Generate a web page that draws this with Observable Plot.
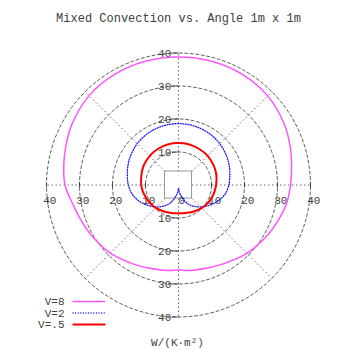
<!DOCTYPE html>
<html><head><meta charset="utf-8">
<script src="https://cdn.jsdelivr.net/npm/d3@7"></script>
<script src="https://cdn.jsdelivr.net/npm/@observablehq/plot@0.6"></script>
<style>html,body{margin:0;padding:0;background:#fff} svg{display:block}</style>
</head><body><div id="chart"></div>
<script>
// ---------- data ----------
const title = "Mixed Convection vs. Angle 1m x 1m";
const unitLabel = "W/(K·m²)";
const seriesNames = ["V=8", "V=2", "V=.5"];
// polar angle (degrees, 0 = right, counter-clockwise)
const angles = [0,10,20,30,45,60,75,90,105,120,135,150,160,170,180,190,200,210,225,240,250,260,265,270,275,280,290,300,315,330,340,350,360];
const v8  = [34.0,34.8,35.9,37.0,38.2,38.7,38.8,38.8,38.8,38.7,38.3,37.2,36.2,35.3,34.4,32.6,31.4,30.5,29.2,27.6,26.8,26.2,26.0,25.7,26.0,26.2,26.7,27.5,29.3,30.9,32.0,33.2,34.0];
const v2  = [15.3,15.8,16.4,16.95,17.7,18.2,18.5,18.6,18.5,18.2,17.7,16.95,16.35,15.75,15.2,14.4,13.2,11.7,9.4,7.0,5.0,2.8,1.9,1.0,1.9,2.8,5.0,7.0,9.4,11.7,13.2,14.5,15.3];
const v05 = [11.4,11.7,12.0,12.2,12.5,12.6,12.7,12.7,12.7,12.6,12.4,12.1,11.8,11.5,11.3,11.0,10.6,10.3,9.8,9.2,8.9,8.7,8.6,8.6,8.6,8.7,8.9,9.3,9.9,10.5,10.8,11.1,11.4];
const ringTicks = [10, 20, 30, 40];
const xTickValues = [-40,-30,-20,-10,0,10,20,30,40];
const yTickValues = [40,30,20,10,-10,-20,-30,-40];
const spokeAngles = [0,45,90,135,180,225,270,315];

// ---------- layout ----------
const W = 360, H = 360;
const CX = 178, CY = 184.5, S = 3.3;          // pole position (px) and px per unit
const X = px => (px - CX) / S, Y = py => (CY - py) / S;
const rad = a => a * Math.PI / 180;
const inner = 4.1;                              // half size of central box
const font = "Liberation Mono";
const txt = "#404040";

const styles = [
  {stroke: "#ff55ff", strokeWidth: 1.5, dash: null},
  {stroke: "#1a1aff", strokeWidth: 1.3, dash: "1,1.6"},
  {stroke: "#ff0000", strokeWidth: 2, dash: null}
];
const seriesVals = [v8, v2, v05];

const ringPts = ringTicks.flatMap(r => d3.range(0, 361, 2).map(a => ({r, a})));
const spokes = spokeAngles.map(a => ({a, r0: a % 90 === 0 ? inner : inner * Math.SQRT2, r1: 40}));

const seriesMarks = seriesNames.map((name, k) => {
  const pts = angles.map((a, i) => ({a, r: seriesVals[k][i]}));
  return Plot.line(pts, {
    x: d => d.r * Math.cos(rad(d.a)), y: d => d.r * Math.sin(rad(d.a)),
    stroke: styles[k].stroke, strokeWidth: styles[k].strokeWidth,
    strokeDasharray: styles[k].dash, curve: "catmull-rom"
  });
});

const legendRows = [301, 312.5, 324];
const legendMarks = seriesNames.flatMap((name, k) => [
  Plot.text([name], {x: X(64), y: Y(legendRows[k]), text: d => d, textAnchor: "end",
    fontFamily: font, fontSize: 11, fill: txt}),
  Plot.link([name], {x1: X(72), x2: X(105), y1: Y(legendRows[k]), y2: Y(legendRows[k]),
    stroke: styles[k].stroke, strokeWidth: styles[k].strokeWidth, strokeDasharray: styles[k].dash})
]);

const chart = Plot.plot({
  width: W, height: H, margin: 0,
  x: {domain: [X(0), X(W)], axis: null},
  y: {domain: [Y(H), Y(0)], axis: null},
  style: {background: "#fff", fontFamily: font},
  marks: [
    // rings
    Plot.line(ringPts, {x: d => d.r * Math.cos(rad(d.a)), y: d => d.r * Math.sin(rad(d.a)), z: "r",
      stroke: "#333", strokeWidth: 0.8, strokeDasharray: "3,2.5"}),
    // spokes
    Plot.link(spokes, {x1: d => d.r0 * Math.cos(rad(d.a)), y1: d => d.r0 * Math.sin(rad(d.a)),
      x2: d => d.r1 * Math.cos(rad(d.a)), y2: d => d.r1 * Math.sin(rad(d.a)),
      stroke: "#444", strokeWidth: 0.8, strokeDasharray: "1.5,2.5"}),
    // central box
    Plot.rect([0], {x1: -inner, x2: inner, y1: -inner, y2: inner, fill: "none", stroke: "#999", strokeWidth: 1}),
    // ticks on horizontal axis
    Plot.link(xTickValues.filter(v => v !== 0), {x1: d => d, x2: d => d, y1: -0.7, y2: 0.7, stroke: "#333", strokeWidth: 0.8}),
    // ticks on vertical axis
    Plot.link(yTickValues, {x1: -2.1, x2: 0, y1: d => d, y2: d => d, stroke: "#333", strokeWidth: 0.8}),
    // tick labels
    Plot.text(xTickValues, {x: d => d + 1, y: -4.7, text: d => String(Math.abs(d)),
      fontFamily: font, fontSize: 11, fill: txt}),
    Plot.text(yTickValues, {x: -2.2, y: d => d, text: d => String(Math.abs(d)), textAnchor: "end",
      fontFamily: font, fontSize: 11, fill: txt}),
    // series
    ...seriesMarks,
    // title & unit label
    Plot.text([title], {x: X(178), y: Y(18), text: d => d, fontFamily: font, fontSize: 12, fill: txt}),
    Plot.text([unitLabel], {x: X(177), y: Y(342), text: d => d, fontFamily: font, fontSize: 11, fill: txt}),
    ...legendMarks
  ]
});
document.getElementById("chart").appendChild(chart);
</script>
</body></html>
